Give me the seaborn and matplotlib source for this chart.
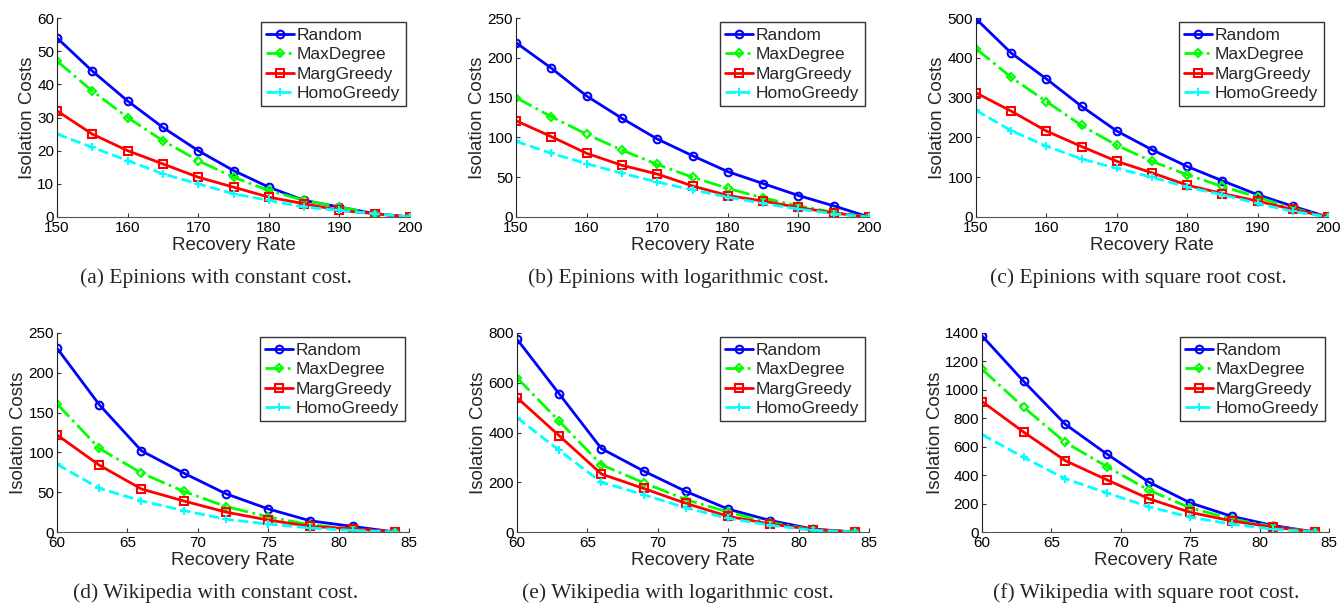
import numpy as np
import pandas as pd
import matplotlib
matplotlib.use('Agg')
import matplotlib.pyplot as plt
import seaborn as sns

# x values
rate_epinions = [150, 155, 160, 165, 170, 175, 180, 185, 190, 195, 200]
rate_wiki = [60, 63, 66, 69, 72, 75, 78, 81, 84]

methods = ['Random', 'MaxDegree', 'MargGreedy', 'HomoGreedy']

# (a) Epinions, constant cost
epi_const_random = [54, 44, 35, 27, 20, 14, 9, 5, 3, 1, 0]
epi_const_maxdeg = [47, 38, 30, 23, 17, 12, 8, 5, 3, 1, 0]
epi_const_marg = [32, 25, 20, 16, 12, 9, 6, 4, 2, 1, 0]
epi_const_homo = [25, 21, 17, 13, 10, 7, 5, 3, 2, 1, 0]

# (b) Epinions, logarithmic cost
epi_log_random = [219, 187, 152, 124, 98, 77, 57, 42, 27, 14, 0]
epi_log_maxdeg = [150, 126, 104, 84, 66, 50, 36, 24, 14, 6, 0]
epi_log_marg = [121, 101, 80, 65, 54, 39, 27, 20, 12, 5, 0]
epi_log_homo = [95, 80, 67, 55, 44, 34, 25, 17, 10, 4, 0]

# (c) Epinions, square root cost
epi_sqrt_random = [498, 412, 347, 278, 216, 169, 127, 91, 56, 27, 0]
epi_sqrt_maxdeg = [423, 351, 290, 230, 180, 140, 106, 77, 50, 22, 0]
epi_sqrt_marg = [312, 266, 216, 177, 140, 111, 80, 59, 40, 19, 0]
epi_sqrt_homo = [268, 217, 178, 146, 122, 100, 75, 56, 34, 14, 0]

# (d) Wikipedia, constant cost
wiki_const_random = [231, 160, 102, 74, 48, 29, 14, 7, 0]
wiki_const_maxdeg = [161, 105, 74, 51, 32, 19, 9, 4, 0]
wiki_const_marg = [122, 84, 54, 39, 25, 15, 7, 4, 0]
wiki_const_homo = [85, 55, 39, 27, 16, 10, 5, 2, 0]

# (e) Wikipedia, logarithmic cost
wiki_log_random = [775, 555, 335, 245, 163, 92, 46, 12, 0]
wiki_log_maxdeg = [620, 445, 270, 198, 130, 80, 38, 10, 0]
wiki_log_marg = [540, 387, 233, 175, 115, 63, 32, 10, 0]
wiki_log_homo = [460, 328, 200, 150, 97, 55, 27, 7, 0]

# (f) Wikipedia, square root cost
wiki_sqrt_random = [1380, 1060, 758, 548, 352, 205, 110, 45, 0]
wiki_sqrt_maxdeg = [1145, 878, 630, 460, 295, 170, 92, 38, 0]
wiki_sqrt_marg = [918, 703, 502, 367, 235, 138, 78, 33, 0]
wiki_sqrt_homo = [685, 525, 375, 275, 178, 104, 55, 20, 0]

captions = ['(a) Epinions with constant cost.',
            '(b) Epinions with logarithmic cost.',
            '(c) Epinions with square root cost.',
            '(d) Wikipedia with constant cost.',
            '(e) Wikipedia with logarithmic cost.',
            '(f) Wikipedia with square root cost.']

panels = [
    (rate_epinions, [epi_const_random, epi_const_maxdeg, epi_const_marg, epi_const_homo], 60, 10),
    (rate_epinions, [epi_log_random, epi_log_maxdeg, epi_log_marg, epi_log_homo], 250, 50),
    (rate_epinions, [epi_sqrt_random, epi_sqrt_maxdeg, epi_sqrt_marg, epi_sqrt_homo], 500, 100),
    (rate_wiki, [wiki_const_random, wiki_const_maxdeg, wiki_const_marg, wiki_const_homo], 250, 50),
    (rate_wiki, [wiki_log_random, wiki_log_maxdeg, wiki_log_marg, wiki_log_homo], 800, 200),
    (rate_wiki, [wiki_sqrt_random, wiki_sqrt_maxdeg, wiki_sqrt_marg, wiki_sqrt_homo], 1400, 200),
]

styles = {
    'Random': dict(color='#0000ff', marker='o', linestyle='-', markersize=5.5),
    'MaxDegree': dict(color='#00ff00', marker='D', linestyle='-.', markersize=4.5),
    'MargGreedy': dict(color='#ff0000', marker='s', linestyle='-', markersize=5.5),
    'HomoGreedy': dict(color='#00ffff', marker='+', linestyle='--', markersize=6),
}

sns.set_style('ticks')
plt.rcParams['font.family'] = ['Liberation Sans', 'DejaVu Sans']

W, H = 1344, 603
fig = plt.figure(figsize=(W / 100, H / 100), dpi=100)

# axes boxes in pixels: left, right, top, bottom
boxes = [(57, 410, 18, 217), (516, 869, 18, 217), (976, 1328, 18, 217),
         (57, 409, 333, 532), (517, 869, 333, 532), (982, 1329, 333, 532)]
caption_pos = [(216, 278), (678, 278), (1138, 278),
               (216, 593), (678, 593), (1146, 593)]

for i, (xs, series, ymax, ystep) in enumerate(panels):
    l, r, t, b = boxes[i]
    ax = fig.add_axes([l / W, 1 - b / H, (r - l) / W, (b - t) / H])
    for name, ys in zip(methods, series):
        st = dict(styles[name])
        ms = st.pop('markersize')
        sns.lineplot(x=xs, y=ys, ax=ax, label=name, linewidth=2,
                     markersize=ms, markerfacecolor='none',
                     markeredgewidth=1.5, markeredgecolor=st['color'], **st)
    xmax = 200 if xs[0] == 150 else 85
    ax.set_xlim(xs[0], xmax)
    ax.set_xticks(np.arange(xs[0], xmax + 1, 10 if xs[0] == 150 else 5))
    ax.set_ylim(0, ymax)
    ax.set_yticks(np.arange(0, ymax + 1, ystep))
    ax.tick_params(direction='in', labelsize=11, length=3, pad=2, colors='#333333')
    ax.tick_params(axis='x', pad=3)
    for lab in ax.get_xticklabels() + ax.get_yticklabels():
        lab.set_color('black')
    sns.despine(ax=ax)
    ax.spines['left'].set_color('#222222')
    ax.spines['bottom'].set_color('#555555')
    ax.set_xlabel('Recovery Rate', fontsize=13.5, labelpad=1)
    ax.set_ylabel('Isolation Costs', fontsize=13.5, labelpad=1)
    leg = ax.legend(loc='upper right', fontsize=12.5, frameon=True, fancybox=False,
                    borderaxespad=0.25, handlelength=1.6, labelspacing=0.25,
                    handletextpad=0.2, borderpad=0.3)
    leg.get_frame().set_edgecolor('black')
    leg.get_frame().set_linewidth(1.0)
    cx, cy = caption_pos[i]
    fig.text(cx / W, 1 - cy / H, captions[i], ha='center', va='center',
             fontsize=15.5, family=['Liberation Serif', 'DejaVu Serif'])

fig.savefig('out.png', dpi=100)
